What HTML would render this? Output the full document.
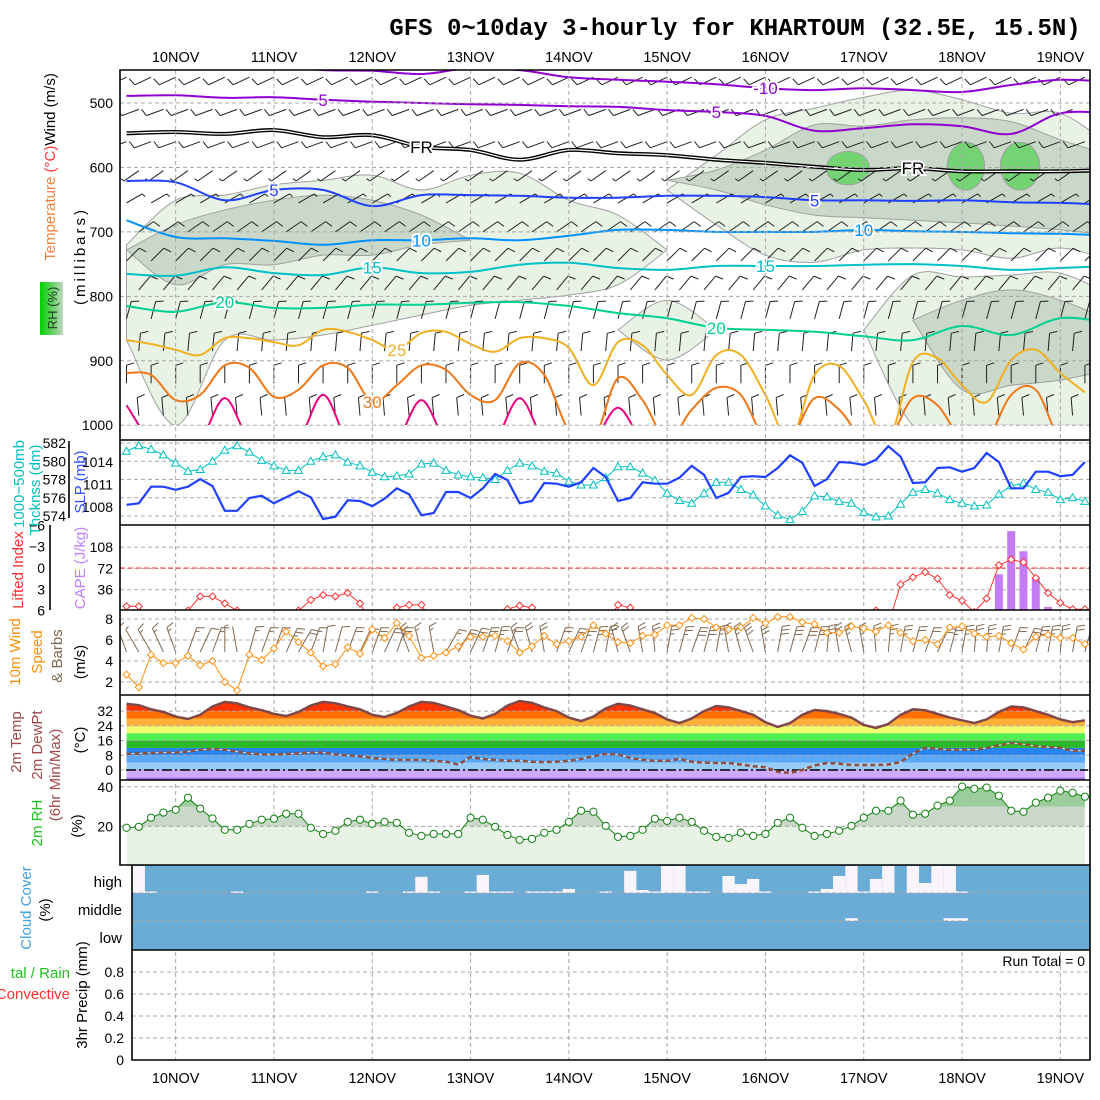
<!DOCTYPE html>
<html><head><meta charset="utf-8"><style>body{margin:0;background:#fff}svg{display:block}</style></head>
<body>
<svg id="c" width="1100" height="1100" xmlns="http://www.w3.org/2000/svg" font-family="Liberation Sans, sans-serif">
<defs>
<clipPath id="clipUp"><rect x="120" y="70" width="970" height="355"/></clipPath>
<clipPath id="clipLI"><rect x="120" y="525" width="970" height="85"/></clipPath>
<clipPath id="clipWS"><rect x="120" y="610" width="970" height="85"/></clipPath>
<clipPath id="clipCL"><rect x="132" y="865" width="958" height="85"/></clipPath>
<clipPath id="clipT"><path id="tclip" d=""/></clipPath>
<clipPath id="clipRH"><path id="rclip" d=""/></clipPath>
<linearGradient id="rhg" x1="0" x2="1" y1="0" y2="0"><stop offset="0" stop-color="#00d000"/><stop offset="0.5" stop-color="#60d060"/><stop offset="1" stop-color="#c0d8c0"/></linearGradient>
</defs>
</svg>
<script>
// ---------- DATA (3-hourly from 9NOV 12Z, 79 points) ----------
const dayLabels=["10NOV","11NOV","12NOV","13NOV","14NOV","15NOV","16NOV","17NOV","18NOV","19NOV"];
const thickness=[581.1,581.7,581.3,580.7,579.8,578.9,579.1,580.0,581.2,581.7,581.0,580.1,579.5,579.0,579.0,580.0,580.5,580.7,579.9,579.5,578.8,578.3,578.4,578.6,579.7,579.8,579.0,578.5,578.3,578.2,578.0,579.0,579.8,579.5,578.9,578.7,577.8,577.4,577.4,578.2,579.4,579.4,578.7,577.9,576.5,575.7,575.4,576.5,577.7,577.7,576.9,576.3,575.1,574.1,573.6,574.5,576.2,576.1,575.6,575.4,574.4,573.9,574.0,575.3,576.6,576.9,576.5,575.8,575.4,575.1,575.2,576.4,577.3,577.6,576.9,576.6,575.8,576.0,575.6];
const slp=[1008.3,1008.5,1010.7,1010.7,1010.3,1010.7,1011.7,1010.8,1007.5,1007.5,1009.2,1009.5,1008.5,1009.3,1010.1,1009.3,1006.4,1006.7,1008.9,1008.8,1008.1,1009.1,1010.5,1009.7,1006.9,1007.2,1010.0,1010.0,1009.2,1010.5,1012.4,1011.6,1008.5,1008.8,1011.2,1011.1,1010.7,1011.3,1013.2,1012.0,1008.8,1009.2,1011.3,1011.1,1011.1,1011.9,1013.5,1012.3,1009.2,1009.9,1012.0,1012.1,1012.0,1013.2,1014.9,1013.9,1010.8,1011.7,1014.0,1013.9,1013.6,1014.3,1016.1,1014.7,1011.2,1011.3,1013.2,1013.3,1012.7,1013.2,1015.2,1014.0,1010.5,1010.5,1012.7,1012.7,1012.1,1012.3,1014.0];
const liftedIndex=[5.4,5.4,8,8,8,6,4.0,4.0,5.0,6,8,8,8,8,6,4.5,3.8,4.0,3.5,5.0,8,8,5.6,5.2,5.2,8,8,8,8,8,8,5.8,5.3,5.6,8,8,8,8,8,8,5.2,5.6,8,8,8,8,8,8,8,8,8,8,8,8,8,8,8,8,8,8,8,6,8,2.3,1.3,0.6,1.5,3.8,4.6,6.2,4.3,-0.4,-1.2,-0.8,1.4,3.5,4.9,5.8,5.8];
const cape=[0,0,0,0,0,0,0,0,0,0,0,0,0,0,0,0,0,0,0,0,0,0,0,0,0,0,0,0,0,0,0,0,0,0,0,0,0,0,0,0,0,0,0,0,0,0,0,0,0,0,0,0,0,0,0,0,0,0,0,0,0,0,0,0,0,0,0,0,0,0,0,62,135,101,56,7,0,0,0];
const windSpeed=[2.7,1.5,4.6,3.8,3.8,4.5,3.6,4.0,2.0,1.2,4.6,4.1,5.2,6.8,5.8,4.8,3.5,3.7,5.3,4.7,7.0,6.2,7.6,6.4,4.3,4.5,4.8,5.4,6.3,6.3,6.4,5.9,4.8,5.4,6.4,5.6,5.9,6.3,7.4,6.6,5.8,5.7,6.4,6.5,7.4,7.4,8.1,8.0,7.2,7.0,7.2,8.1,7.6,8.2,8.2,7.7,7.5,6.7,6.7,7.3,7.1,6.8,7.4,6.7,5.9,6.0,5.6,7.2,7.3,6.6,6.3,6.4,5.7,5.1,6.3,6.5,6.2,6.2,5.6];
const windDir10=[340,330,330,335,340,20,25,20,0,350,15,20,20,25,30,20,10,15,20,25,20,25,20,340,345,350,30,30,25,20,15,20,340,345,350,20,25,20,15,10,345,340,350,355,10,15,20,15,10,350,345,340,350,10,15,20,15,5,350,345,350,355,5,10,15,20,25,15,10,5,5,10,20,25,15,10,5,10,15];
const temp2m=[36,35.2,33,31.5,29,27.7,30,34.5,37,36.2,34,32.5,30.5,29.3,31.5,35,37,36.3,34.5,33,30,28.8,31,34.5,37,36.5,34.5,32.5,29.5,28,30.5,35,37.5,36.5,34,32,28.5,26.6,29,33.5,36,35,33,31,27.5,25.5,28,32,34.8,34,32,30,26,23.4,25.5,30,32.6,32,30.5,28.5,24.5,22.8,25,30,33,32.5,30.5,28.5,27,25.5,27.5,31.5,34.5,34,32,30,27.5,26,27];
const dewPt=[8.7,9,9.3,9.5,9.5,10,11,11.4,11,10,9,8.5,8.5,8.7,9,9.5,9.5,8.5,8,7.5,6.5,6,5.5,5.5,5.5,5,4.5,3,7,6,5.5,5,5,4.5,4.3,4.5,5,6,7.5,8.7,8.5,6.5,5.5,5,5,6,4.5,4,3.8,3.8,3,2,1.5,-1,-1.6,0,2.5,3.8,3.5,2.7,2.7,2.7,3,4.3,9,12,11.5,11,11,11,12,13.5,14.7,14,13,12.5,12,10.5,10.5];
const rh2m=[19.3,19.8,24.4,27,28.4,34.5,29,24,18.3,18.3,21.3,23.4,23.9,26.4,26.4,19.3,16.2,17.8,22.3,23.4,21.3,22.3,21.8,16.8,15.2,16.2,16.2,16.2,24.4,23.4,19.8,15.7,13.2,13.7,16.8,18.3,22.3,27.9,27.4,20.3,14.7,15.2,18.3,23.9,22.8,24.4,22.3,17.8,14.7,14.2,16.8,15.2,16.2,21.8,24.4,19.3,15.2,16.2,17.8,20.3,24.4,27.9,27.9,33,25.9,26.4,30.5,33,40.1,39,39.6,35.5,27.9,27.4,32,34.5,38,37,35];
const highCloud=[0,0,96,100,100,100,100,100,100,96,100,100,100,100,100,100,100,100,100,100,96,100,100,96,40,96,100,100,96,33,96,96,100,96,96,96,85,100,100,96,100,18,89,96,0,0,96,96,100,37,67,48,96,100,100,100,96,85,37,0,96,48,0,100,0,63,0,0,96,100,100,100,100,100,100,100,100,100,100];
const midCloud=[100,100,100,100,100,100,100,100,100,100,100,100,100,100,100,100,100,100,100,100,100,100,100,100,100,100,100,100,100,100,100,100,100,100,100,100,100,100,100,100,100,100,100,100,100,100,100,100,100,100,100,100,100,100,100,100,100,100,100,90,100,100,100,100,100,100,100,90,90,100,100,100,100,100,100,100,100,100,100];
const precip3h=[];
// upper-air isotherms, pressure (mb), 12-hourly from 9NOV 12Z
const isoM10=[441,441,441,443,449,450,455,446,449,460,464,467,471,477,480,477,480,483,472,464,467];
const isoM5=[489,488,492,491,495,498,500,502,503,505,506,511,514,520,543,539,533,536,548,516,516];
const isoFR=[547,545,548,542,553,550,568,573,588,573,578,581,588,593,599,604,601,606,606,606,604];
const iso5=[621,623,651,635,635,660,643,643,644,647,647,644,644,646,651,651,652,651,654,655,658];
const iso10=[682,708,710,714,720,713,713,710,713,706,697,697,700,700,700,697,699,700,702,703,706];
const iso15=[765,768,755,764,767,755,764,762,751,748,756,759,753,753,753,751,750,753,759,756,753];
const iso20=[815,824,809,818,818,813,813,810,809,815,826,834,849,852,855,862,868,846,860,834,841];
// 6-hourly isotherms near surface
const iso25=[868,874,883,891,865,865,871,876,852,855,868,883,857,855,874,886,865,865,880,938,871,876,922,953,891,891,953,1023,922,908,961,1023,902,896,938,964,899,883,919,949];
const iso30=[919,922,961,953,907,911,956,945,907,911,964,938,907,914,953,961,904,922,1008,1023,927,961,1023,976,942,953,1023,1023,958,976,1023,1023,958,969,1023,1023,953,945,1023,1023];
const iso35=[969,1023,1023,1023,958,1023,1023,1023,953,1023,1023,1023,961,1023,1023,1023,958,1023,1023,1023,973,1023,1023,1023,1023,1023,1023,1023,1023,1023,1023,1023,1023,1023,1023,1023,1023,1023,1023,1023];
// RH shading bands (mb), 12-hourly, starting at given index
const rh30aStart=0, rh30aTop=[720,651,643,627,620,612,635,612,609,651,674,728], rh30aBot=[868,1000,868,868,860,845,829,814,806,798,782,728];
const rh30bStart=11, rh30bTop=[635,581,526,508,491,480,495,516,516,565], rh30bBot=[635,689,736,747,728,725,728,741,725,744];
const rh30cStart=15, rh30cTop=[852,767,770,767,764,798], rh30cBot=[852,1000,1000,1000,1000,1000];
const rh30dStart=10, rh30dTop=[852,806,852], rh30dBot=[852,899,852];
const rh50aStart=0, rh50aTop=[728,689,666,651,643,651,674,713], rh50aBot=[728,782,751,751,736,736,720,713];
const rh50bStart=11, rh50bTop=[620,604,573,534,536,526,523,529,557,581], rh50bBot=[620,635,658,674,678,682,686,691,697,705];
const rh50cStart=16, rh50cTop=[837,806,790,806,837], rh50cBot=[837,945,938,930,914];
const rh70Day=[6.84,8.04,8.59], rh70P=[601,598,598], rh70HalfDays=[0.22,0.19,0.2], rh70HalfMb=[26,37,37];
// upper winds
const barbLevels=[460,510,560,605,655,700,745,790,835,885,935,985];
const barbDir=[245,250,250,235,60,55,45,40,15,5,0,355];
const barbSpd=[6,6,6,4,4,6,7,7,7,7,7,6];
const thickTicks=[582,580,578,576,574], slpTicks=[1014,1011,1008], liTicks=[-6,-3,0,3,6], capeTicks=[108,72,36];
const wsTicks=[8,6,4,2], tTicks=[32,24,16,8,0], rhTicks=[40,20], prTicks=[0.8,0.6,0.4,0.2,0];
const pTicks=[500,600,700,800,900,1000];

// ---------- AXES ----------
const X0=126.5, PXH=98.3/24;
function xH(h){return X0+h*PXH;}
function xi(i){return xH(3*i);}
function yP(p){return 103+(p-500)*0.6444;}
function yTh(v){return 443+(582-v)*9.125;}
function ySLP(v){return 462+(1014-v)*7.5;}
function yLI(v){return 568+v*7.1;}
function yCAPE(v){return 611-v*21.3/36;}
function yWS(v){return 703-v*10.5;}
function yT(v){return 770-v*1.84;}
function yRH(v){return 866-v*1.98;}
function yPr(v){return 1060-v*110;}

const NS='http://www.w3.org/2000/svg';
const svg=document.getElementById('c');
function el(tag,parent){const e=document.createElementNS(NS,tag);(parent||svg).appendChild(e);return e;}
function at(e,o){for(const k in o)e.setAttribute(k,o[k]);return e;}
function pd(pts){return pts.map((p,i)=>(i?'L':'M')+p[0].toFixed(1)+' '+p[1].toFixed(1)).join('');}
function sm(pts,cont){ // catmull-rom smoothing
  let d=(cont?'L':'M')+pts[0][0].toFixed(1)+' '+pts[0][1].toFixed(1);
  for(let i=0;i<pts.length-1;i++){
    const p0=pts[Math.max(0,i-1)],p1=pts[i],p2=pts[i+1],p3=pts[Math.min(pts.length-1,i+2)];
    const c1=[p1[0]+(p2[0]-p0[0])/6,p1[1]+(p2[1]-p0[1])/6],c2=[p2[0]-(p3[0]-p1[0])/6,p2[1]-(p3[1]-p1[1])/6];
    d+='C'+c1[0].toFixed(1)+' '+c1[1].toFixed(1)+' '+c2[0].toFixed(1)+' '+c2[1].toFixed(1)+' '+p2[0].toFixed(1)+' '+p2[1].toFixed(1);
  }
  return d;
}
function grp(name,clip){const g=el('g');if(clip)g.setAttribute('clip-path','url(#'+clip+')');return g;}
function txt(parent,x,y,s,size,fill,anchor,rot){const t=el('text',parent);at(t,{x:x,y:y,'font-size':size,fill:fill,'text-anchor':anchor||'middle'});if(rot)t.setAttribute('transform','rotate(-90 '+x+' '+y+')');t.textContent=s;return t;}
function dash(parent,x1,y1,x2,y2){const l=at(el('line',parent),{x1:x1,y1:y1,x2:x2,y2:y2,stroke:'#a8a8a8','stroke-width':1,'stroke-dasharray':'4,3'});return l;}

// ---------- UPPER PANEL ----------
const gUp=grp('upper','clipUp');


function band(start,top,bot,fill,name){
  const tp=[],bp=[];for(let k=0;k<top.length;k++)tp.push([xH(12*(start+k)),yP(top[k])]);
  for(let k=bot.length-1;k>=0;k--)bp.push([xH(12*(start+k)),yP(bot[k])]);
  const p=at(el('path',gUp),{d:sm(tp)+sm(bp,true)+'Z',fill:fill,stroke:'#a0a0a0','stroke-width':1,'stroke-linejoin':'round'});
  
  
}
band(rh30aStart,rh30aTop,rh30aBot,'#e8f3e6','rh30-region-a');
band(rh30bStart,rh30bTop,rh30bBot,'#e8f3e6','rh30-region-b');
band(rh30cStart,rh30cTop,rh30cBot,'#e8f3e6','rh30-region-c');
band(rh30dStart,rh30dTop,rh30dBot,'#e8f3e6','rh30-region-d');
band(rh50aStart,rh50aTop,rh50aBot,'#c9d8c8','rh50-region-a');
band(rh50bStart,rh50bTop,rh50bBot,'#c9d8c8','rh50-region-b');
band(rh50cStart,rh50cTop,rh50cBot,'#c9d8c8','rh50-region-c');
for(let i=0;i<rh70Day.length;i++){
  const cx=xH(12+24*rh70Day[i]), cy=yP(rh70P[i]);
  const e=at(el('ellipse',gUp),{cx:cx,cy:cy,rx:rh70HalfDays[i]*98.3,ry:rh70HalfMb[i]*0.6444,fill:'#74d474',stroke:'#a0a0a0'});
  
  
}
// grid
for(const p of pTicks){const l=dash(svg,120,yP(p),1090,yP(p));}
for(let d=0;d<dayLabels.length;d++){const x=xH(12+24*d);const l=dash(svg,x,70,x,1060);}
// barbs
function barb(parent,x,y,dir,spd,len,color){
  const r=dir*Math.PI/180, sx=Math.sin(r), sy=-Math.cos(r);
  const tx=x+sx*len, ty=y+sy*len;
  let d='M'+x.toFixed(1)+' '+y.toFixed(1)+'L'+tx.toFixed(1)+' '+ty.toFixed(1);
  const r2=r+Math.PI*0.4, kx=Math.sin(r2), ky=-Math.cos(r2);
  let n=Math.floor(spd/5), half=(spd%5)>=2.5, off=0;
  for(let j=0;j<n;j++){const bx=tx-sx*off,by=ty-sy*off;d+='M'+bx.toFixed(1)+' '+by.toFixed(1)+'l'+(kx*8).toFixed(1)+' '+(ky*8).toFixed(1);off+=4;}
  if(half){const bx=tx-sx*off,by=ty-sy*off;d+='M'+bx.toFixed(1)+' '+by.toFixed(1)+'l'+(kx*4).toFixed(1)+' '+(ky*4).toFixed(1);}
  const p=at(el('path',parent),{d:d,stroke:color,'stroke-width':1,fill:'none'});
  return p;
}
for(let j=0;j<barbLevels.length;j++){
  for(let h=(j%2)*3;h<=234;h+=6){
    const b=barb(gUp,xH(h),yP(barbLevels[j]),barbDir[j],barbSpd[j],18,'#202020');
    
    
  }
}
// isotherms
function iso(arr,step,color,name,w){
  const pts=arr.map((p,k)=>[xH(step*k),yP(p)]);
  const p=at(el('path',gUp),{d:sm(pts),stroke:color,'stroke-width':w||2,fill:'none','stroke-linejoin':'round'});
  
  
  return pts;
}
iso(isoM10,12,'#9000d0','isotherm-minus10');
iso(isoM5,12,'#9000d0','isotherm-minus5');
iso(isoFR,12,'#000','freezing-level',4);
iso(isoFR,12,'#fff','freezing-level-inner',1.2);
iso(iso5,12,'#2040ff','isotherm-5');
iso(iso10,12,'#0090ff','isotherm-10');
iso(iso15,12,'#00c0c8','isotherm-15');
iso(iso20,12,'#00d090','isotherm-20');
iso(iso25,6,'#f0b020','isotherm-25');
iso(iso30,6,'#f07818','isotherm-30');
iso(iso35,6,'#f00080','isotherm-35');
function clab(arr,step,k,s,color){const t=txt(gUp,xH(step*k),yP(arr[k])+6,s,17,color);at(t,{stroke:'#fff','stroke-width':4,'paint-order':'stroke'});}
clab(isoM10,12,13,'-10','#9000d0');clab(isoM5,12,4,'5','#9000d0');clab(isoM5,12,12,'5','#9000d0');
clab(isoFR,12,6,'FR','#000');clab(isoFR,12,16,'FR','#000');
clab(iso5,12,3,'5','#2040ff');clab(iso5,12,14,'5','#2040ff');
clab(iso10,12,6,'10','#0090ff');clab(iso10,12,15,'10','#0090ff');
clab(iso15,12,5,'15','#00c0c8');clab(iso15,12,13,'15','#00c0c8');
clab(iso20,12,2,'20','#00d090');clab(iso20,12,12,'20','#00d090');
clab(iso25,6,11,'25','#f0b020');clab(iso30,6,10,'30','#f07818');

// ---------- THICKNESS / SLP ----------
for(const v of thickTicks){const l=dash(svg,120,yTh(v),1090,yTh(v));}
{
  const pts=thickness.map((v,i)=>[xi(i),yTh(v)]);
  const p=at(el('path'),{d:pd(pts),stroke:'#00c0c0','stroke-width':1,fill:'none'});
  
  
  for(const q of pts){const m=at(el('path'),{d:'M'+(q[0]-4)+' '+(q[1]+3)+'L'+q[0]+' '+(q[1]-4)+'L'+(q[0]+4)+' '+(q[1]+3)+'Z',stroke:'#00c0c0',fill:'#fff'});}
  const s=at(el('path'),{d:pd(slp.map((v,i)=>[xi(i),ySLP(v)])),stroke:'#2040ff','stroke-width':2.2,fill:'none'});
  
  
}
// ---------- CAPE / LI ----------
for(const v of capeTicks){const l=dash(svg,120,yCAPE(v),1090,yCAPE(v));}
{
  const z=at(el('line'),{x1:120,x2:1090,y1:yLI(0),y2:yLI(0),stroke:'#ff3030','stroke-dasharray':'5,3'});
  
  
  const g=grp('li','clipLI');
  for(let i=0;i<cape.length;i++){if(cape[i]>0){const r=at(el('rect',g),{x:xi(i)-4,y:yCAPE(cape[i]),width:8,height:yCAPE(0)-yCAPE(cape[i]),fill:'#c47cf4'});}}
  const pts=liftedIndex.map((v,i)=>[xi(i),yLI(v)]);
  const p=at(el('path',g),{d:pd(pts),stroke:'#ff3030','stroke-width':1,fill:'none'});
  
  
  for(const q of pts){const m=at(el('path',g),{d:'M'+(q[0]-3.5)+' '+q[1]+'L'+q[0]+' '+(q[1]-3.5)+'L'+(q[0]+3.5)+' '+q[1]+'L'+q[0]+' '+(q[1]+3.5)+'Z',stroke:'#ff3030',fill:'#fff'});}
}
// ---------- 10m WIND ----------
for(const v of wsTicks){const l=dash(svg,120,yWS(v),1090,yWS(v));}
{
  const g=grp('ws','clipWS');
  for(let i=0;i<windSpeed.length;i++){const b=barb(g,xi(i),652,windDir10[i],windSpeed[i]*2,26,'#806850');}
  const pts=windSpeed.map((v,i)=>[xi(i),yWS(v)]);
  const p=at(el('path',g),{d:pd(pts),stroke:'#ff9010','stroke-width':1,fill:'none'});
  
  
  for(const q of pts){const m=at(el('path',g),{d:'M'+(q[0]-3.5)+' '+q[1]+'L'+q[0]+' '+(q[1]-3.5)+'L'+(q[0]+3.5)+' '+q[1]+'L'+q[0]+' '+(q[1]+3.5)+'Z',stroke:'#ff9010',fill:'#fff'});}
}
// ---------- 2m TEMP ----------
{
  const tp=temp2m.map((v,i)=>[xi(i),yT(v)]);
  document.getElementById('tclip').setAttribute('d',pd(tp)+'L'+xi(temp2m.length-1)+' 780L'+xi(0)+' 780Z');
  const g=grp('t','clipT');
  const br=[-8,-4,0,4,8,12,16,20,24,28,32,44];
  const cols=['#a070f0','#d0a8ff','#98ccf8','#5aa8f8','#2a84f0','#28b828','#50f050','#f4fc70','#ffb038','#ff7000','#ff3400'];
  for(let k=0;k<cols.length;k++){const y1=Math.min(yT(br[k+1]),780),y0=Math.min(yT(br[k]),780);const r=at(el('rect',g),{x:120,y:y1,width:970,height:Math.max(0,y0-y1),fill:cols[k]});}
  for(const v of tTicks){const l=dash(svg,120,yT(v),1090,yT(v));}
  const z=at(el('line'),{x1:126,x2:1088,y1:yT(0),y2:yT(0),stroke:'#000','stroke-width':1.5,'stroke-dasharray':'10,3,2,3'});
  
  
  const p=at(el('path'),{d:pd(tp),stroke:'#804848','stroke-width':2.5,fill:'none'});
  
  
  const dp=dewPt.map((v,i)=>[xi(i),yT(v)]);
  const w=at(el('path'),{d:pd(dp),stroke:'#e0e0e0','stroke-width':1,fill:'none'});
  
  
  const d=at(el('path'),{d:pd(dp),stroke:'#8a5040','stroke-width':2.5,fill:'none','stroke-dasharray':'5,3'});
  
  
}
// ---------- 2m RH ----------
{
  const rp=rh2m.map((v,i)=>[xi(i),yRH(v)]);
  document.getElementById('rclip').setAttribute('d',pd(rp)+'L'+xi(rh2m.length-1)+' 866L'+xi(0)+' 866Z');
  const g=grp('rh','clipRH');
  const br=[0,20,30,100], cols=['#e8f3e6','#c9d8c8','#9ccc9c'];
  for(let k=0;k<3;k++){const r=at(el('rect',g),{x:120,y:yRH(br[k+1]),width:970,height:yRH(br[k])-yRH(br[k+1]),fill:cols[k]});}
  for(const v of rhTicks){const l=dash(svg,120,yRH(v),1090,yRH(v));}
  const p=at(el('path'),{d:pd(rp),stroke:'#108010','stroke-width':1,fill:'none'});
  
  
  for(const q of rp){const c=at(el('circle'),{cx:q[0],cy:q[1],r:3.6,stroke:'#108010',fill:'#fff'});}
}
// ---------- CLOUD ----------
{
  const bg=at(el('rect'),{x:132,y:865,width:958,height:85,fill:'#6aacd6'});
  
  
  const g=grp('cl','clipCL');
  for(let i=0;i<highCloud.length;i++){const h=(100-highCloud[i])/100*27;if(h>0){const r=at(el('rect',g),{x:xi(i)-6.15,y:893-Math.max(h,1.5),width:12.3,height:Math.max(h,1.5),fill:'#f8f4fa'});}}
  for(let i=0;i<midCloud.length;i++){const h=(100-midCloud[i])/100*28;if(h>0){const r=at(el('rect',g),{x:xi(i)-6.15,y:921-Math.max(h,1.5),width:12.3,height:Math.max(h,1.5),fill:'#f8f4fa'});}}
  for(const y of [893,921]){const l=dash(svg,132,y,1090,y);}
}
// ---------- PRECIP ----------
for(const v of prTicks){const l=dash(svg,132,yPr(v),1090,yPr(v));}
for(let i=0;i<precip3h.length;i++){const r=at(el('rect'),{x:xi(i)-4,y:yPr(precip3h[i]),width:8,height:1060-yPr(precip3h[i]),fill:'#20c020'});}
{const t=txt(svg,1085,966,'Run Total = 0',14,'#000','end');}

// ---------- FRAMES ----------
{
  const f=at(el('path'),{d:'M120 70H1090V1060H132V865H120Z M120 440H1090 M120 525H1090 M120 610H1090 M120 695H1090 M120 780H1090 M120 865H1090 M132 950H1090 M69 441V518 M50 525V610',stroke:'#000','stroke-width':1.6,fill:'none'});
  
  
}
// ---------- TEXT ----------
function T(x,y,s,size,fill,anchor,rot,name){const t=txt(svg,x,y,s,size,fill,anchor,rot);return t;}
{
  const t=T(735,35,'GFS 0~10day 3-hourly for KHARTOUM (32.5E, 15.5N)',24,'#000','middle',false,'chart-title');
  t.setAttribute('font-family','Liberation Mono, monospace');t.setAttribute('font-weight','bold');
}
for(let d=0;d<dayLabels.length;d++){const x=xH(12+24*d);T(x,62,dayLabels[d],14.5,'#000','middle',false,'top-date-label');T(x,1083,dayLabels[d],14.5,'#000','middle',false,'bottom-date-label');}
for(const p of pTicks)T(113,yP(p)+5,String(p),14,'#000','end',false,'pressure-tick-label');
for(const v of thickTicks)T(66,yTh(v)+5,String(v),14,'#000','end',false,'thickness-tick-label');
for(const v of slpTicks)T(113,ySLP(v)+5,String(v),14,'#000','end',false,'slp-tick-label');
for(const v of liTicks)T(45,yLI(v)+5,(v<0?'−':'')+Math.abs(v),14,'#000','end',false,'li-tick-label');
for(const v of capeTicks)T(113,yCAPE(v)+5,String(v),14,'#000','end',false,'cape-tick-label');
for(const v of wsTicks)T(113,yWS(v)+5,String(v),14,'#000','end',false,'wind-tick-label');
for(const v of tTicks)T(113,yT(v)+5,String(v),14,'#000','end',false,'temp-tick-label');
for(const v of rhTicks)T(113,yRH(v)+5,String(v),14,'#000','end',false,'rh-tick-label');
for(const v of prTicks)T(124,yPr(v)+5,String(v),14,'#000','end',false,'precip-tick-label');
T(122,887,'high',15,'#000','end',false,'cloud-high-label');
T(122,915,'middle',15,'#000','end',false,'cloud-middle-label');
T(122,943,'low',15,'#000','end',false,'cloud-low-label');
// rotated axis titles
{
  const t=T(55,167,'',15,'#000','middle',true,'upper-axis-title');
  const a=el('tspan',t);a.setAttribute('fill','#f08040');a.textContent='Temperature ';
  const b=el('tspan',t);b.setAttribute('fill','#ff3030');b.textContent='(°C)';
  const c=el('tspan',t);c.setAttribute('fill','#000');c.textContent='Wind (m/s)';
}
{const t=T(85,256,'(millibars)',15,'#000','middle',true,'pressure-axis-title');t.setAttribute('letter-spacing','3');}
{const r=at(el('rect'),{x:40,y:282,width:23,height:53,fill:'url(#rhg)'});}
T(57,308,'RH (%)',13,'#204020','middle',true,'rh-legend-label');
T(24,484,'1000−500mb',15,'#00c0c0','middle',true,'thickness-title');
T(40,490,'Thcknss (dm)',15,'#00c0c0','middle',true,'thickness-unit-title');
T(85,482,'SLP (mb)',15,'#3050ff','middle',true,'slp-title');
T(23,570,'Lifted Index',15,'#ff3030','middle',true,'li-title');
T(85,568,'CAPE (J/kg)',15,'#c080ff','middle',true,'cape-title');
T(20,652,'10m Wind',15,'#ff9010','middle',true,'wind-title');
T(42,652,'Speed',15,'#ff9010','middle',true,'wind-speed-title');
T(62,656,'& Barbs',15,'#806850','middle',true,'wind-barbs-title');
T(85,662,'(m/s)',15,'#000','middle',true,'wind-unit-title');
T(21,742,'2m Temp',15,'#a04848','middle',true,'temp-title');
T(42,745,'2m DewPt',15,'#a04848','middle',true,'dewpoint-title');
T(60,775,'(6hr Min/Max)',15,'#a04848','middle',true,'minmax-title');
T(85,740,'(°C)',15,'#000','middle',true,'temp-unit-title');
T(42,823,'2m RH',15,'#20c020','middle',true,'rh-title');
T(82,826,'(%)',15,'#000','middle',true,'rh-unit-title');
T(31,908,'Cloud Cover',15,'#40a0e0','middle',true,'cloud-title');
T(50,910,'(%)',15,'#000','middle',true,'cloud-unit-title');
T(87,995,'3hr Precip (mm)',15,'#000','middle',true,'precip-title');
T(70,978,'tal / Rain',15,'#20c020','end',false,'precip-rain-legend');
T(70,999,'Convective',15,'#ff3030','end',false,'precip-convective-legend');
</script>
</body></html>
